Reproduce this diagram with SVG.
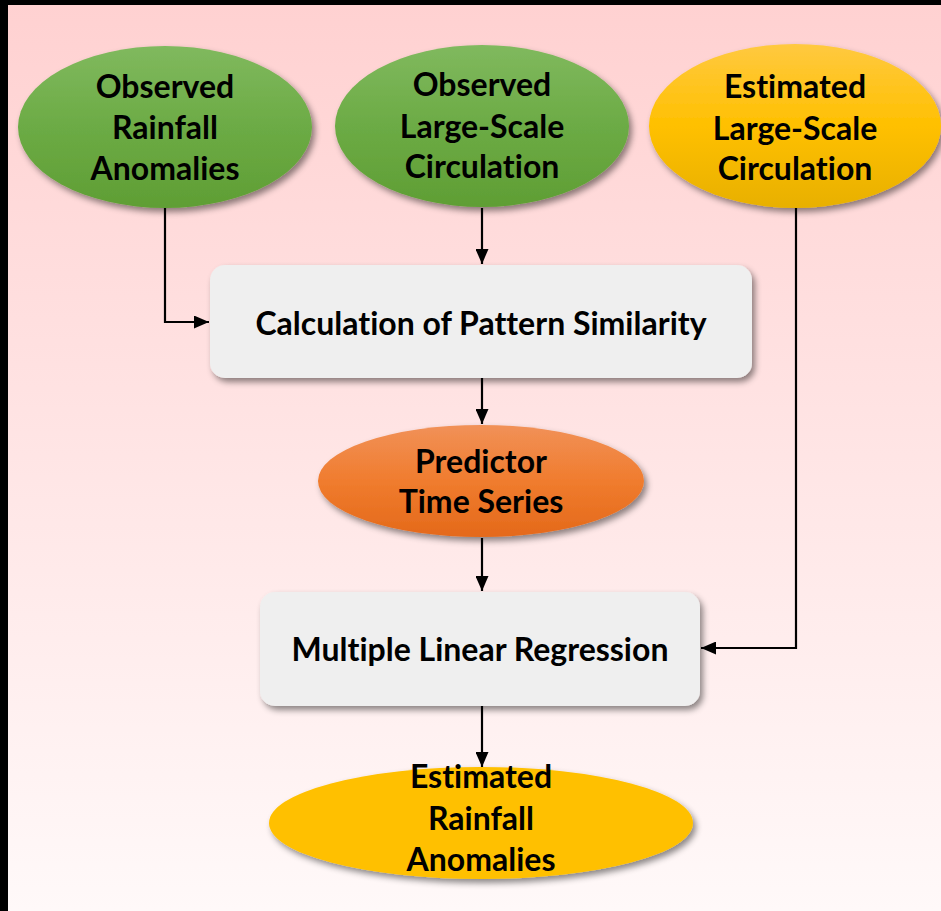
<svg xmlns="http://www.w3.org/2000/svg" width="941" height="911" viewBox="0 0 941 911">
<defs>
<linearGradient id="bg" x1="0" y1="0" x2="0" y2="1">
<stop offset="0" stop-color="#FFD1D1"/>
<stop offset="1" stop-color="#FFF9F9"/>
</linearGradient>
<linearGradient id="green" x1="0" y1="0" x2="0" y2="1">
<stop offset="0" stop-color="#80B95E"/>
<stop offset="0.5" stop-color="#6CAB45"/>
<stop offset="1" stop-color="#5F9E34"/>
</linearGradient>
<linearGradient id="gold" x1="0" y1="0" x2="0" y2="1">
<stop offset="0" stop-color="#FFC940"/>
<stop offset="0.5" stop-color="#FFC000"/>
<stop offset="1" stop-color="#E8B000"/>
</linearGradient>
<linearGradient id="orange" x1="0" y1="0" x2="0" y2="1">
<stop offset="0" stop-color="#F19158"/>
<stop offset="0.5" stop-color="#F07C2E"/>
<stop offset="1" stop-color="#E4691A"/>
</linearGradient>
<filter id="sh" x="-10%" y="-10%" width="125%" height="130%">
<feDropShadow dx="3" dy="4" stdDeviation="3" flood-color="#000" flood-opacity="0.45"/>
</filter>
<marker id="ah" viewBox="0 0 15 13" refX="15" refY="6.5" markerWidth="15" markerHeight="13" markerUnits="userSpaceOnUse" orient="auto">
<path d="M0,0 L15,6.5 L0,13 Z" fill="#000"/>
</marker>
<style>
.t{font-family:Lato,"Liberation Sans",sans-serif;font-weight:bold;font-size:32px;fill:#000;text-anchor:middle;font-variant-ligatures:none}
.c{fill:none;stroke:#000;stroke-width:2.2}
.box{fill:#EFEFEF}
</style>
</defs>
<rect x="0" y="0" width="941" height="911" fill="url(#bg)"/>
<rect x="0" y="0" width="941" height="5" fill="#000"/>
<rect x="0" y="0" width="8" height="911" fill="#000"/>

<g id="connectors">
<path class="c" d="M165,208 V322 H209" marker-end="url(#ah)"/>
<path class="c" d="M482,208 V264" marker-end="url(#ah)"/>
<path class="c" d="M482,378 V424" marker-end="url(#ah)"/>
<path class="c" d="M482,538 V591" marker-end="url(#ah)"/>
<path class="c" d="M796,208 V648 H701" marker-end="url(#ah)"/>
<path class="c" d="M482,706 V767" marker-end="url(#ah)"/>
</g>

<g id="obs-rain">
<ellipse cx="165" cy="127" rx="147" ry="81" fill="url(#green)" filter="url(#sh)"/>
<text class="t" x="165" y="98">Observed</text>
<text class="t" x="165" y="139">Rainfall</text>
<text class="t" x="165" y="180">Anomalies</text>
</g>
<g id="obs-circ">
<ellipse cx="482" cy="126" rx="147" ry="81" fill="url(#green)" filter="url(#sh)"/>
<text class="t" x="482" y="96">Observed</text>
<text class="t" x="482" y="138">Large-Scale</text>
<text class="t" x="482" y="178">Circulation</text>
</g>
<g id="est-circ">
<ellipse cx="795" cy="126" rx="146" ry="82" fill="url(#gold)" filter="url(#sh)"/>
<text class="t" x="795" y="98">Estimated</text>
<text class="t" x="795" y="140">Large-Scale</text>
<text class="t" x="795" y="180">Circulation</text>
</g>
<g id="calc">
<rect class="box" x="210" y="265" width="542" height="113" rx="15" filter="url(#sh)"/>
<text class="t" x="481" y="335">Calculation of Pattern Similarity</text>
</g>
<g id="predictor">
<ellipse cx="481" cy="481" rx="163" ry="56" fill="url(#orange)" filter="url(#sh)"/>
<text class="t" x="481" y="473">Predictor</text>
<text class="t" x="481" y="513">Time Series</text>
</g>
<g id="mlr">
<rect class="box" x="260" y="592" width="440" height="114" rx="15" filter="url(#sh)"/>
<text class="t" x="480" y="661">Multiple Linear Regression</text>
</g>
<g id="est-rain">
<ellipse cx="481" cy="823" rx="212" ry="56" fill="#FFC000" filter="url(#sh)"/>
<text class="t" x="481" y="788">Estimated</text>
<text class="t" x="481" y="830">Rainfall</text>
<text class="t" x="481" y="871">Anomalies</text>
</g>
</svg>
